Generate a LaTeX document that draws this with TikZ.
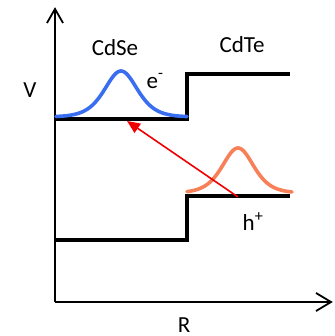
\documentclass[tikz,border=0pt]{standalone}
\usepackage{fontspec}
\setmainfont{Carlito}
\usetikzlibrary{arrows.meta}
\definecolor{eblue}{RGB}{58,110,240}
\definecolor{horange}{RGB}{247,128,88}
\definecolor{arrred}{RGB}{240,0,0}
\begin{document}
\begin{tikzpicture}[x=1pt,y=-1pt,
  lbl/.style={font=\fontsize{23}{27}\selectfont, inner sep=0pt},
  axisline/.style={line width=1.8pt, black},
  level/.style={line width=4.8pt, black},
  gauss/.style={line width=3.6pt, line cap=round}]
\useasboundingbox (0,0) rectangle (334,336);
% axes
\coordinate (origin) at (55,302);
\coordinate (ytip) at (55,9);
\coordinate (xtip) at (331,302);
\draw[axisline] (origin) -- (ytip);
\draw[axisline] (origin) -- (xtip);
\draw[axisline, line join=miter] (47,23) -- (ytip) -- (63,23);
\draw[axisline, line join=miter] (316,293) -- (xtip) -- (316,311);
% band levels
\draw[level] (55,119) -- (187,119) -- (187,74) -- (290,74);
\draw[level] (55,240) -- (187,240) -- (187,196) -- (290,196);
% wavefunctions
\draw[gauss, eblue] plot[domain=56:187, samples=140] (\x, {117 - 46/(cosh((\x-121)/22)^2)});
\draw[gauss, horange] plot[domain=187:292, samples=140] (\x, {193 - 45/(cosh((\x-238)/21)^2)});
% transfer arrow
\coordinate (hstart) at (238,197);
\coordinate (eend) at (127,121);
\draw[arrred, line width=1.6pt, -{Triangle[length=13pt,width=11pt]}] (hstart) -- (eend);
% labels
\node[lbl] (cdse) at (115,48) {CdSe};
\node[lbl] (cdte) at (242,45) {CdTe};
\node[lbl] (V) at (30,90) {V};
\node[lbl] (R) at (184,325) {R};
\node[lbl] (e) at (155,81) {e\textsuperscript{-}};
\node[lbl] (h) at (253,222) {h\textsuperscript{+}};
\end{tikzpicture}
\end{document}
